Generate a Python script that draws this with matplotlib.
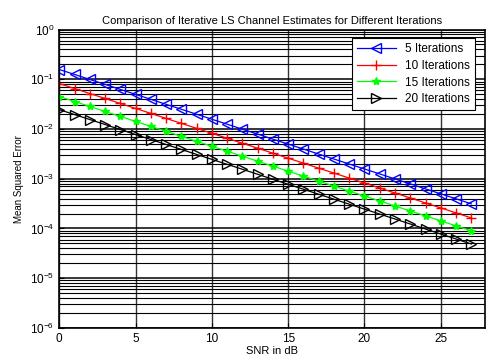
import numpy as np
import matplotlib
matplotlib.use('Agg')
import matplotlib.pyplot as plt
from matplotlib.ticker import LogLocator, NullFormatter

plt.rcParams['font.family'] = ['Liberation Sans', 'DejaVu Sans']

# SNR in dB, one point per dB
snr = list(range(0, 28))

# mean squared error
mse_5 = [0.157, 0.125, 0.099, 0.079, 0.0625, 0.0497, 0.0395, 0.0313, 0.0249, 0.0198,
         0.0157, 0.0125, 0.0099, 0.0079, 0.00625, 0.00497, 0.00395, 0.00313, 0.00249, 0.00198,
         0.00157, 0.00125, 0.00099, 0.00079, 0.000625, 0.000497, 0.000395, 0.000313]
mse_10 = [0.082, 0.0651, 0.0517, 0.0411, 0.0326, 0.0259, 0.0206, 0.0163, 0.013, 0.0103,
          0.0082, 0.00651, 0.00517, 0.00411, 0.00326, 0.00259, 0.00206, 0.00163, 0.0013, 0.00103,
          0.00082, 0.000651, 0.000517, 0.000411, 0.000326, 0.000259, 0.000206, 0.000163]
mse_15 = [0.045, 0.0357, 0.0284, 0.0225, 0.0179, 0.0142, 0.0113, 0.00896, 0.00712, 0.00565,
          0.0045, 0.00357, 0.00284, 0.00225, 0.00179, 0.00142, 0.00113, 0.000896, 0.000712, 0.000565,
          0.00045, 0.000357, 0.000284, 0.000225, 0.000179, 0.000142, 0.000113, 0.0000896]
mse_20 = [0.0245, 0.0195, 0.0155, 0.0123, 0.00975, 0.00774, 0.00615, 0.00488, 0.00388, 0.00308,
          0.00245, 0.00195, 0.00155, 0.00123, 0.000975, 0.000774, 0.000615, 0.000488, 0.000388, 0.000308,
          0.000245, 0.000195, 0.000155, 0.000123, 0.0000975, 0.0000774, 0.0000615, 0.0000488]

labels = ['5 Iterations', '10 Iterations', '15 Iterations', '20 Iterations']

fig = plt.figure(figsize=(4.86, 3.6), dpi=100)
ax = fig.add_axes([0.122, 0.089, 0.876, 0.829])

ax.semilogy(snr, mse_5, '-<', color='blue', mfc='none', ms=7, lw=0.9, label=labels[0])
ax.semilogy(snr, mse_10, '-+', color='red', ms=7, lw=0.9, label=labels[1])
ax.semilogy(snr, mse_15, '-*', color='#00ff00', ms=6, lw=0.9, label=labels[2])
ax.semilogy(snr, mse_20, '->', color='black', mfc='none', ms=7, lw=0.9, label=labels[3])

ax.set_xlim(0, 27.9)
ax.set_ylim(1e-6, 1)
ax.set_xticks([0, 5, 10, 15, 20, 25])
ax.yaxis.set_major_locator(LogLocator(base=10, numticks=10))
ax.yaxis.set_minor_locator(LogLocator(base=10, subs=np.arange(2, 10), numticks=10))
ax.yaxis.set_minor_formatter(NullFormatter())

ax.grid(True, which='major', axis='x', color='#333333', lw=1.0)
ax.grid(True, which='major', axis='y', color='black', lw=1.1)
ax.grid(True, which='minor', axis='y', color='black', lw=0.8)
ax.tick_params(labelsize=8.5, direction='in', which='both')
for s in ax.spines.values():
    s.set_linewidth(1.2)

ax.set_title('Comparison of Iterative LS Channel Estimates for Different Iterations', fontsize=8, pad=4)
ax.set_xlabel('SNR in dB', fontsize=8, labelpad=1)
ax.set_ylabel('Mean Squared Error', fontsize=7, labelpad=4)

leg = ax.legend(loc='upper right', fontsize=8.5, fancybox=False, framealpha=1,
                edgecolor='black', handlelength=3.3, borderpad=0.4, labelspacing=0.4,
                bbox_to_anchor=(0.99, 0.99))
leg.get_frame().set_linewidth(0.8)

fig.savefig('out.png', dpi=100)
